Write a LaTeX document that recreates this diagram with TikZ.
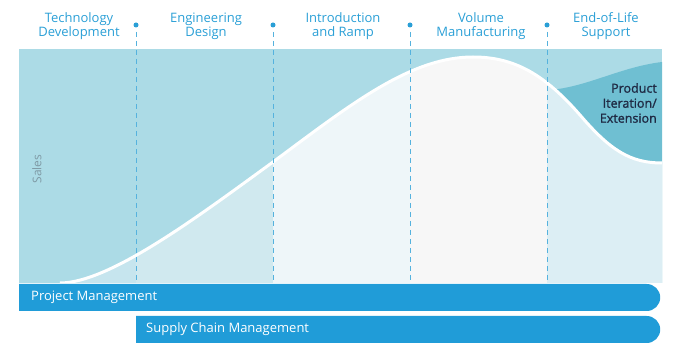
\documentclass[tikz,border=0pt]{standalone}
\usepackage{fontspec}
\setmainfont{Open Sans}
\newfontfamily\semibold[FakeBold=1.2]{Open Sans}
\usepackage{tikz}
\usetikzlibrary{positioning,shapes.misc}
\definecolor{panelteal}{HTML}{ACDBE6}
\definecolor{colA}{HTML}{C6E5EE}
\definecolor{colB}{HTML}{D0E9EF}
\definecolor{colC}{HTML}{EEF6F9}
\definecolor{colD}{HTML}{F7F7F7}
\definecolor{colE}{HTML}{DCEEF4}
\definecolor{iterteal}{HTML}{6FBFD2}
\definecolor{barblue}{HTML}{209CD8}
\definecolor{phaseblue}{HTML}{2A9FD6}
\definecolor{navy}{HTML}{1F2A44}
\definecolor{salesgray}{HTML}{7F9AA5}
\tikzset{
  phase/.style={align=center, text=phaseblue, inner sep=0pt, font=\fontsize{13}{14}\selectfont},
  bar/.style={fill=barblue, rounded rectangle, rounded rectangle west arc=none, minimum height=27pt, inner sep=0pt},
  bartext/.style={text=white, inner sep=0pt, anchor=west, font=\fontsize{13}{14}\selectfont},
  divider/.style={draw=phaseblue!80, line width=0.9pt, dash pattern=on 5pt off 4pt},
  dot/.style={circle, fill=phaseblue, minimum size=5pt, inner sep=0pt},
  salescurve/.style={draw=white, line width=3pt},
  iterlabel/.style={align=right, text=navy, inner sep=0pt, anchor=east, font=\semibold\fontsize{12.5}{15}\selectfont}
}

\begin{document}
\begin{tikzpicture}[x=1pt, y=-1pt]
\useasboundingbox (0,0) rectangle (686,358);
% panel background
\fill[panelteal] (19,49) rectangle (662,283);
% product iteration area
\fill[iterteal] (548,90) .. controls (585,88) and (620,67) .. (662,62) -- (662,283) -- (548,283) -- cycle;
% area under the sales curve, one shade per phase
\begin{scope}
  \clip (60,283) .. controls (110,283) and (200,215) .. (273,162)
        .. controls (350,105) and (410,57) .. (473,57)
        .. controls (515,57) and (545,75) .. (580,115)
        .. controls (610,150) and (630,163) .. (662,163) -- (662,283) -- cycle;
  \fill[colA] (19,49) rectangle (136,283);
  \fill[colB] (136,49) rectangle (273,283);
  \fill[colC] (273,49) rectangle (410,283);
  \fill[colD] (410,49) rectangle (547,283);
  \fill[colE] (547,49) rectangle (662,283);
\end{scope}
\draw[salescurve] (60,283) .. controls (110,283) and (200,215) .. (273,162)
      .. controls (350,105) and (410,57) .. (473,57)
      .. controls (515,57) and (545,75) .. (580,115)
      .. controls (610,150) and (630,163) .. (662,163);
% phase dividers
\foreach \x [count=\i] in {136,273,410,547}{
  \node[dot] (d\i) at (\x,25) {};
  \coordinate (b\i) at (\x,283);
  \draw[divider] (\x,32) -- (b\i);
}
% phase titles
\node[phase] (techdev) at (79,26) {Technology\\Development};
\node[phase] (engdesign) at (206,26) {Engineering\\Design};
\node[phase] (ramp) at (343,26) {Introduction\\and Ramp};
\node[phase] (volume) at (481,26) {Volume\\Manufacturing};
\node[phase] (eol) at (606,26) {End-of-Life\\Support};
\node[text=salesgray, rotate=90, inner sep=0pt, font=\fontsize{12}{14}\selectfont] (sales) at (37,169) {Sales};
\node[iterlabel] (iter) at (657,103) {Product\\Iteration/\\Extension};
% management bars
\node[bar, minimum width=641pt, anchor=west] (pm) at (19,297.5) {};
\node[bartext] (pmtext) at ([xshift=12pt]pm.west) {Project Management};
\node[bar, minimum width=524pt, anchor=west] (scm) at (136,329.5) {};
\node[bartext] (scmtext) at ([xshift=10pt]scm.west) {Supply Chain Management};
\end{tikzpicture}
\end{document}
